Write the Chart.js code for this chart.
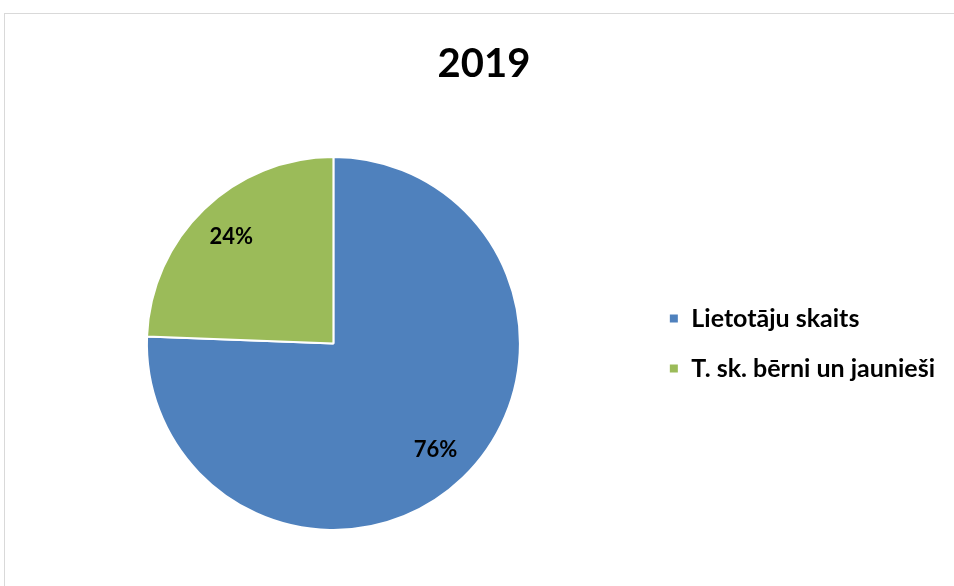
<!DOCTYPE html>
<html>
<head>
<meta charset="utf-8">
<script src="https://cdn.jsdelivr.net/npm/chart.js@4/dist/chart.umd.min.js"></script>
<style>
  html, body { margin: 0; padding: 0; background: #fff; }
  #wrap { position: relative; width: 954px; height: 586px; overflow: hidden; }
  #frame { position: absolute; left: 4px; top: 13px; width: 1000px; height: 700px; border: 1px solid #d9d9d9; }
  canvas { position: absolute; left: 0; top: 0; }
</style>
</head>
<body>
<div id="wrap">
  <div id="frame"></div>
  <canvas id="pieChart" width="954" height="586"></canvas>
</div>
<script>
// chart data (shares)
var titleText = '2019';
var categories = ['Lietotāju skaits', 'T. sk. bērni un jaunieši'];
var values = [75.6, 24.4];
var colors = ['#4F81BD', '#9BBB59'];

var FONT = "Lato, 'Open Sans', sans-serif";

// percent labels inside the slices
var pctLabels = {
    id: 'pctLabels',
    afterDatasetsDraw: function(chart) {
        var ctx = chart.ctx;
        var meta = chart.getDatasetMeta(0);
        var total = values.reduce(function(a, b) { return a + b; }, 0);
        ctx.save();
        ctx.font = 'bold 22px ' + FONT;
        ctx.fillStyle = '#000';
        ctx.textAlign = 'center';
        ctx.textBaseline = 'middle';
        meta.data.forEach(function(arc, i) {
            var p = arc.getProps(['x', 'y', 'startAngle', 'endAngle', 'outerRadius'], true);
            var mid = (p.startAngle + p.endAngle) / 2;
            var r = p.outerRadius * 0.79;
            var txt = Math.round(values[i] / total * 100) + '%';
            ctx.fillText(txt, p.x + Math.cos(mid) * r, p.y + Math.sin(mid) * r);
        });
        ctx.restore();
    }
};

var chart = new Chart(document.getElementById('pieChart'), {
    type: 'pie',
    data: {
        labels: categories,
        datasets: [{
            data: values,
            backgroundColor: colors,
            borderColor: '#fff',
            borderWidth: 2
        }]
    },
    options: {
        responsive: false,
        animation: false,
        layout: { padding: { left: 23, right: 9, top: 0, bottom: 55 } },
        plugins: {
            title: {
                display: true,
                text: titleText,
                color: '#000',
                font: { family: FONT, size: 40, weight: 'bold' },
                padding: { top: 40, bottom: 68 }
            },
            legend: {
                position: 'right',
                fullSize: false,
                labels: {
                    color: '#000',
                    font: { family: FONT, size: 25, weight: 'bold' },
                    boxWidth: 10,
                    boxHeight: 10,
                    padding: 25
                }
            },
            tooltip: { enabled: false }
        }
    },
    plugins: [pctLabels]
});
</script>
</body>
</html>
